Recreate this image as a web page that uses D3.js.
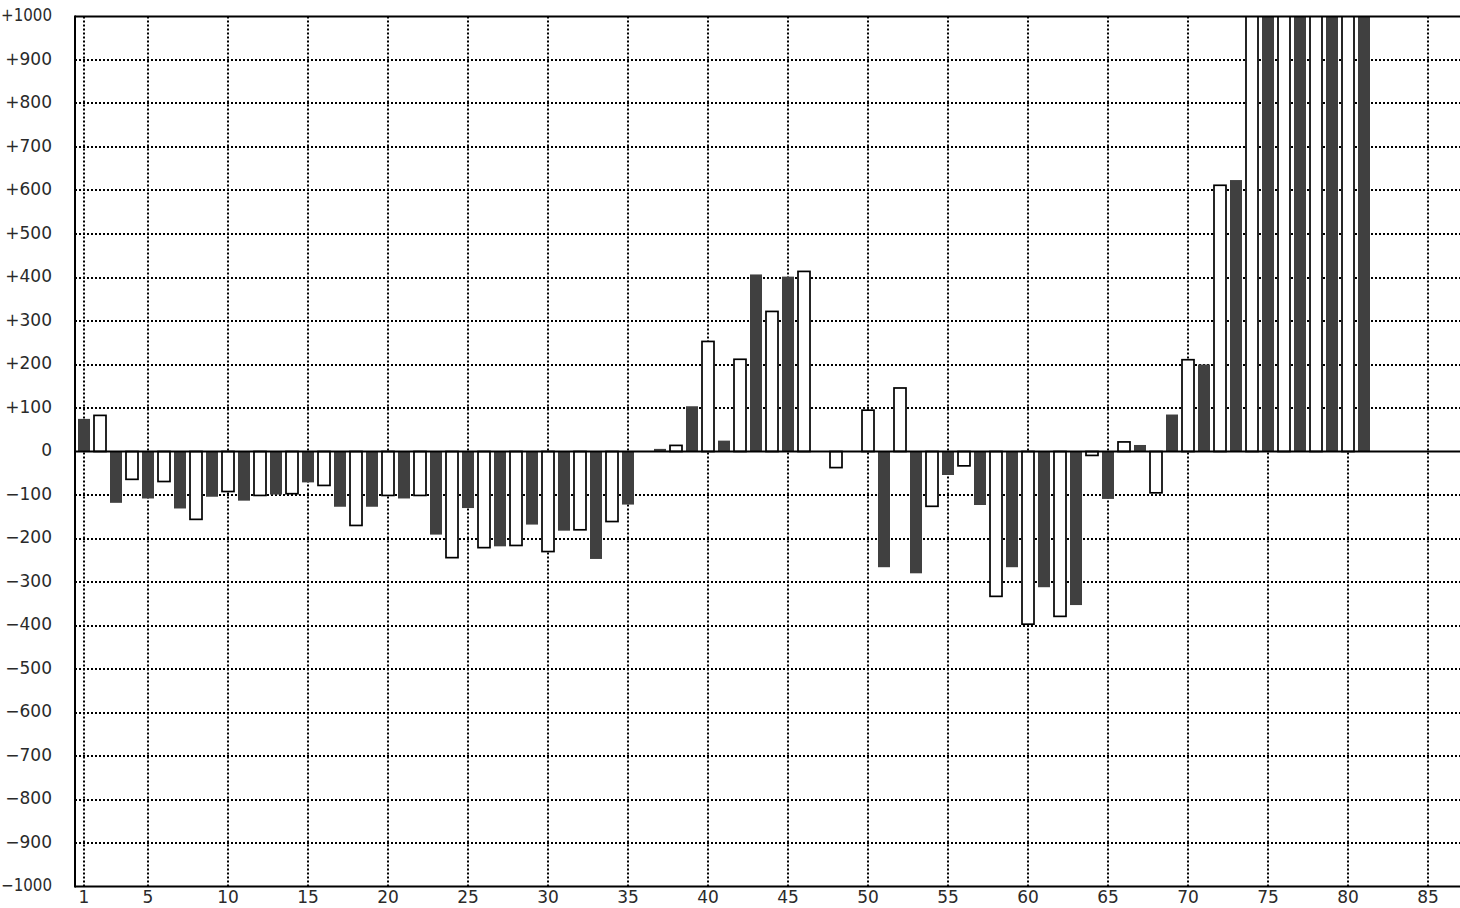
<!DOCTYPE html>
<html>
<head>
<meta charset="utf-8">
<script src="https://cdn.jsdelivr.net/npm/d3@7"></script>
<style>
  html, body { margin: 0; padding: 0; background: #fff; }
  svg { display: block; }
  text { font-family: "DejaVu Sans", sans-serif; font-size: 17px; fill: #2a2a2a; }
</style>
</head>
<body>
<svg id="chart" width="1460" height="908"></svg>
<script>
// ---- data ----
const categories = [
  1,2,3,4,5,6,7,8,9,10,11,12,13,14,15,16,17,18,19,20,
  21,22,23,24,25,26,27,28,29,30,31,32,33,34,35,36,37,38,39,40,
  41,42,43,44,45,46,47,48,49,50,51,52,53,54,55,56,57,58,59,60,
  61,62,63,64,65,66,67,68,69,70,71,72,73,74,75,76,77,78,79,80,81
];
const values = [
  75, 83, -118, -64, -108, -69, -131, -156, -104, -92,
  -113, -101, -99, -97, -71, -78, -127, -170, -127, -101,
  -108, -101, -191, -244, -130, -221, -218, -216, -168, -230,
  -182, -180, -247, -161, -122, null, 6, 14, 104, 253,
  25, 212, 407, 322, 402, 414, null, -37, null, 95,
  -266, 146, -280, -126, -54, -33, -123, -333, -266, -397,
  -312, -379, -353, -9, -109, 22, 15, -95, 85, 211,
  200, 612, 624, 1100, 1100, 1100, 1100, 1100, 1100, 1100, 1100
];
const xTicks = [1,5,10,15,20,25,30,35,40,45,50,55,60,65,70,75,80,85];
const yTicks = [-1000,-900,-800,-700,-600,-500,-400,-300,-200,-100,0,100,200,300,400,500,600,700,800,900,1000];
const yTickLabels = ["\u22121000","\u2212900","\u2212800","\u2212700","\u2212600","\u2212500","\u2212400","\u2212300","\u2212200","\u2212100","0",
  "+100","+200","+300","+400","+500","+600","+700","+800","+900","+1000"];

// ---- layout ----
const plotLeft = 75, plotRight = 1460, plotTop = 16.5, plotBottom = 886.5;
const svg = d3.select("#chart");
const x = d3.scaleLinear().domain([0.4375, 87]).range([plotLeft, plotRight]);
const y = d3.scaleLinear().domain([-1000, 1000]).range([plotBottom, plotTop]);
const barW = 12;

// clip
svg.append("defs").append("clipPath").attr("id", "plotclip")
  .append("rect").attr("x", plotLeft).attr("y", plotTop).attr("width", plotRight - plotLeft).attr("height", plotBottom - plotTop);

// grid
const grid = svg.append("g").attr("stroke", "#000").attr("stroke-width", 2).attr("stroke-dasharray", "2,2");
grid.selectAll("line.h").data(yTicks.filter(v => v > -1000 && v < 1000 && v !== 0)).join("line")
  .attr("x1", plotLeft).attr("x2", plotRight)
  .attr("y1", d => Math.round(y(d))).attr("y2", d => Math.round(y(d)));
grid.selectAll("line.v").data(xTicks).join("line")
  .attr("x1", d => x(d)).attr("x2", d => x(d))
  .attr("y1", plotTop).attr("y2", plotBottom);

// bars
const data = categories.map((c, i) => ({ c, v: values[i] })).filter(d => d.v !== null);
const bars = svg.append("g").attr("clip-path", "url(#plotclip)");
bars.selectAll("rect").data(data).join("rect")
  .attr("x", d => x(d.c) - barW / 2)
  .attr("width", barW)
  .attr("y", d => y(Math.max(0, d.v)))
  .attr("height", d => Math.abs(y(d.v) - y(0)))
  .attr("fill", d => d.c % 2 === 1 ? "#404040" : "#fff")
  .attr("stroke", d => d.c % 2 === 1 ? "none" : "#000")
  .attr("stroke-width", 1.7);

// frame / zero line
const frame = svg.append("g").attr("stroke", "#000").attr("stroke-width", 2);
frame.append("line").attr("x1", plotLeft).attr("x2", plotRight).attr("y1", y(1000)).attr("y2", y(1000));
frame.append("line").attr("x1", plotLeft).attr("x2", plotRight).attr("y1", y(-1000)).attr("y2", y(-1000));
frame.append("line").attr("x1", plotLeft).attr("x2", plotRight).attr("y1", y(0)).attr("y2", y(0));
frame.append("line").attr("x1", plotLeft).attr("x2", plotLeft).attr("y1", plotTop - 1).attr("y2", plotBottom + 1);

// y labels
svg.append("g").selectAll("text").data(yTicks).join("text")
  .attr("x", 52).attr("y", d => y(d) - 1.5)
  .attr("text-anchor", "end").attr("dominant-baseline", "central")
  .each(function (d) {
    if (Math.abs(d) === 1000) {
      d3.select(this).attr("textLength", 51).attr("lengthAdjust", "spacingAndGlyphs");
    }
  })
  .text((d, i) => yTickLabels[i]);

// x labels
svg.append("g").selectAll("text").data(xTicks).join("text")
  .attr("x", d => x(d)).attr("y", 897)
  .attr("text-anchor", "middle").attr("dominant-baseline", "central")
  .text(d => d);
</script>
</body>
</html>
